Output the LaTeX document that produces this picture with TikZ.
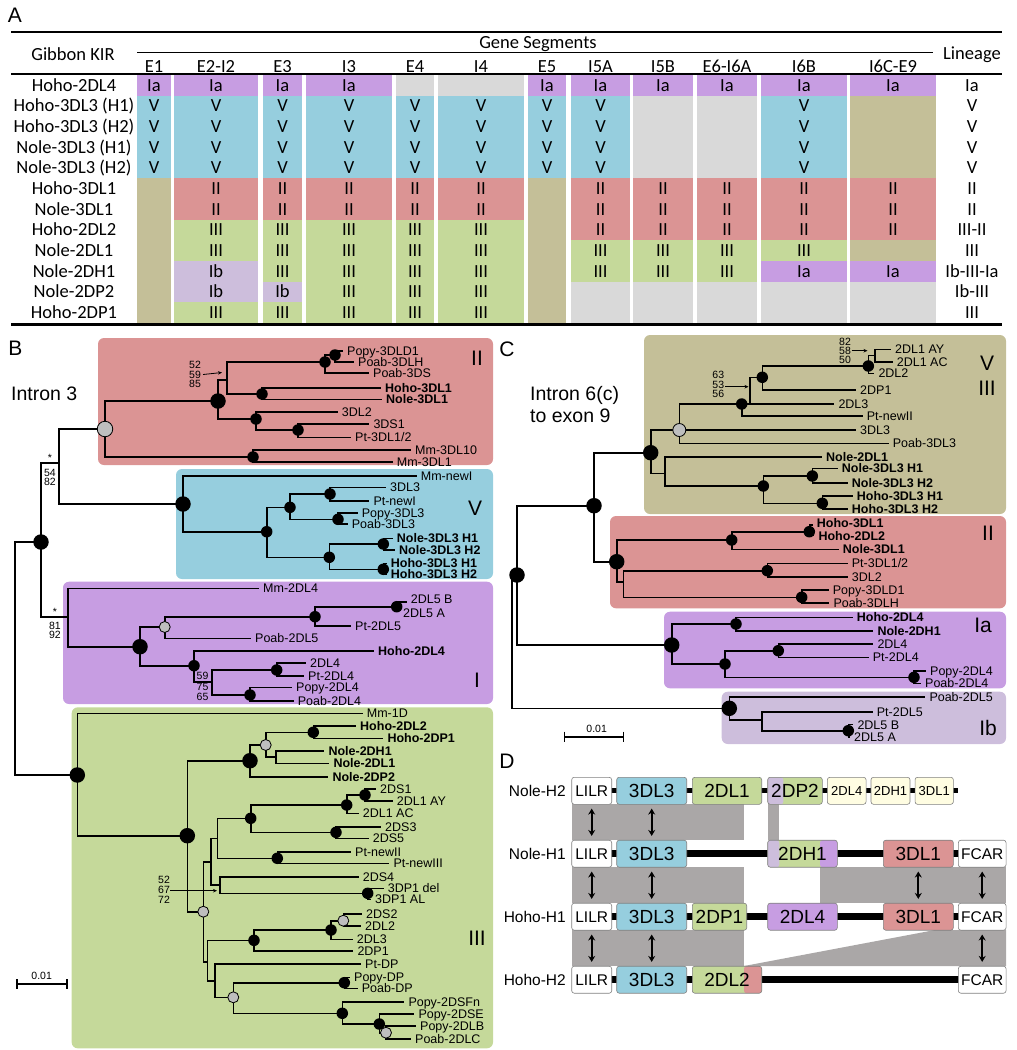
\documentclass[tikz,border=0pt]{standalone}
\usepackage{fontspec}
\setmainfont{Liberation Sans}
\newfontfamily\cf{Carlito}
\usetikzlibrary{arrows.meta}
\definecolor{cpu}{RGB}{199,157,226}
\definecolor{cbl}{RGB}{150,206,222}
\definecolor{cgy}{RGB}{217,217,217}
\definecolor{ctn}{RGB}{196,191,152}
\definecolor{crd}{RGB}{219,148,148}
\definecolor{cgr}{RGB}{197,217,154}
\definecolor{clv}{RGB}{205,190,220}
\definecolor{cyl}{RGB}{255,253,226}
\definecolor{csh}{RGB}{170,167,167}
\definecolor{cgc}{RGB}{190,190,190}
\newcommand\fs[1]{\fontsize{#1}{#1}\selectfont}
\newcommand\vt[3]{\draw[tl] (#1,#2) -- (#1,#3);}
\newcommand\br[3]{\draw[tl] (#1,#3) -- (#2,#3);}
\newcommand\lf[5][lab]{\draw[tl] (#2,#4) -- ({#3-5},#4); \node[#1] at (#3,#4) {#5};}
\newcommand\blk[5]{\fill[#5] (#1,{75+20.667*#3}) rectangle (#2,{75.5+20.667*(#4+1)});}
\newcommand\tx[4]{\node[tt] at ({(#1+#2)/2},{75+20.667*(#3+0.5)}) {#4};}
\begin{document}
\begin{tikzpicture}[x=1pt,y=-1pt,
  tl/.style={line width=1.6pt,line cap=rect},
  lab/.style={anchor=west,inner sep=0pt,font=\fs{12.5},text height=9pt,text depth=0pt},
  blab/.style={lab,font=\fs{12.5}\bfseries},
  num/.style={inner sep=0pt,font=\fs{10.5},text height=7.5pt,text depth=0pt},
  bigc/.style={circle,fill=black,inner sep=0pt,minimum size=15.5pt},
  smc/.style={circle,fill=black,inner sep=0pt,minimum size=11.5pt},
  grc/.style={circle,fill=cgc,draw=black,line width=0.8pt,inner sep=0pt,minimum size=15.5pt},
  sgc/.style={circle,fill=cgc,draw=black,line width=0.8pt,inner sep=0pt,minimum size=11pt},
  roman/.style={inner sep=0pt,font=\fs{21},text height=15pt,text depth=0pt},
  panel/.style={inner sep=0pt,font=\fs{21},text height=15pt,text depth=0pt},
  tt/.style={inner sep=0pt,font=\cf\fs{18.5},text height=11.9pt,text depth=0pt},
  clade/.style={rounded corners=6pt},
  dbox/.style={draw=black!50,line width=0.6pt,rounded corners=2.5pt,minimum height=27pt,inner sep=0pt,font=\fs{19},text height=13.6pt,text depth=0pt},
  sbox/.style={dbox,font=\fs{15.5},text height=11.1pt,fill=white},
  ybox/.style={dbox,font=\fs{13},text height=9.3pt,fill=cyl},
  darr/.style={{Stealth[length=6pt,width=7pt]}-{Stealth[length=6pt,width=7pt]},line width=2pt,shorten <=4pt,shorten >=4pt},
  narr/.style={-{Stealth[length=4pt,width=3.5pt]},line width=0.8pt},
  bb/.style={line width=5pt},
  bbt/.style={line width=7.5pt}]
\useasboundingbox (0,0) rectangle (1017,1050);

% ================= Panel A =================
\node[panel] (pA) at (15,15) {A};
\blk{137}{171}{0}{0}{cpu}\blk{137}{171}{1}{4}{cbl}\blk{137}{171}{5}{11}{ctn}
\foreach \r/\t in {0/Ia,1/V,2/V,3/V,4/V}{\tx{137}{171}{\r}{\t}}
\blk{174}{258}{0}{0}{cpu}\blk{174}{258}{1}{4}{cbl}\blk{174}{258}{5}{6}{crd}\blk{174}{258}{7}{8}{cgr}\blk{174}{258}{9}{10}{clv}\blk{174}{258}{11}{11}{cgr}
\foreach \r/\t in {0/Ia,1/V,2/V,3/V,4/V,5/II,6/II,7/III,8/III,9/Ib,10/Ib,11/III}{\tx{174}{258}{\r}{\t}}
\blk{263}{302}{0}{0}{cpu}\blk{263}{302}{1}{4}{cbl}\blk{263}{302}{5}{6}{crd}\blk{263}{302}{7}{9}{cgr}\blk{263}{302}{10}{10}{clv}\blk{263}{302}{11}{11}{cgr}
\foreach \r/\t in {0/Ia,1/V,2/V,3/V,4/V,5/II,6/II,7/III,8/III,9/III,10/Ib,11/III}{\tx{263}{302}{\r}{\t}}
\blk{306}{392}{0}{0}{cpu}\blk{306}{392}{1}{4}{cbl}\blk{306}{392}{5}{6}{crd}\blk{306}{392}{7}{11}{cgr}
\foreach \r/\t in {0/Ia,1/V,2/V,3/V,4/V,5/II,6/II,7/III,8/III,9/III,10/III,11/III}{\tx{306}{392}{\r}{\t}}
\blk{396}{434}{0}{0}{cgy}\blk{396}{434}{1}{4}{cbl}\blk{396}{434}{5}{6}{crd}\blk{396}{434}{7}{11}{cgr}
\foreach \r/\t in {1/V,2/V,3/V,4/V,5/II,6/II,7/III,8/III,9/III,10/III,11/III}{\tx{396}{434}{\r}{\t}}
\blk{438}{524}{0}{0}{cgy}\blk{438}{524}{1}{4}{cbl}\blk{438}{524}{5}{6}{crd}\blk{438}{524}{7}{11}{cgr}
\foreach \r/\t in {1/V,2/V,3/V,4/V,5/II,6/II,7/III,8/III,9/III,10/III,11/III}{\tx{438}{524}{\r}{\t}}
\blk{528}{566}{0}{0}{cpu}\blk{528}{566}{1}{4}{cbl}\blk{528}{566}{5}{11}{ctn}
\foreach \r/\t in {0/Ia,1/V,2/V,3/V,4/V}{\tx{528}{566}{\r}{\t}}
\blk{571}{630}{0}{0}{cpu}\blk{571}{630}{1}{4}{cbl}\blk{571}{630}{5}{7}{crd}\blk{571}{630}{8}{9}{cgr}\blk{571}{630}{10}{11}{cgy}
\foreach \r/\t in {0/Ia,1/V,2/V,3/V,4/V,5/II,6/II,7/II,8/III,9/III}{\tx{571}{630}{\r}{\t}}
\blk{633}{693}{0}{0}{cpu}\blk{633}{693}{1}{4}{cgy}\blk{633}{693}{5}{7}{crd}\blk{633}{693}{8}{9}{cgr}\blk{633}{693}{10}{11}{cgy}
\foreach \r/\t in {0/Ia,5/II,6/II,7/II,8/III,9/III}{\tx{633}{693}{\r}{\t}}
\blk{697}{757}{0}{0}{cpu}\blk{697}{757}{1}{4}{cgy}\blk{697}{757}{5}{7}{crd}\blk{697}{757}{8}{9}{cgr}\blk{697}{757}{10}{11}{cgy}
\foreach \r/\t in {0/Ia,5/II,6/II,7/II,8/III,9/III}{\tx{697}{757}{\r}{\t}}
\blk{761}{847}{0}{0}{cpu}\blk{761}{847}{1}{4}{cbl}\blk{761}{847}{5}{7}{crd}\blk{761}{847}{8}{8}{cgr}\blk{761}{847}{9}{9}{cpu}\blk{761}{847}{10}{11}{cgy}
\foreach \r/\t in {0/Ia,1/V,2/V,3/V,4/V,5/II,6/II,7/II,8/III,9/Ia}{\tx{761}{847}{\r}{\t}}
\blk{850}{936}{0}{0}{cpu}\blk{850}{936}{1}{4}{ctn}\blk{850}{936}{5}{7}{crd}\blk{850}{936}{8}{8}{ctn}\blk{850}{936}{9}{9}{cpu}\blk{850}{936}{10}{11}{cgy}
\foreach \r/\t in {0/Ia,5/II,6/II,7/II,9/Ia}{\tx{850}{936}{\r}{\t}}
\foreach \r/\t in {0/Hoho-2DL4,1/Hoho-3DL3 (H1),2/Hoho-3DL3 (H2),3/Nole-3DL3 (H1),4/Nole-3DL3 (H2),5/Hoho-3DL1,6/Nole-3DL1,7/Hoho-2DL2,8/Nole-2DL1,9/Nole-2DH1,10/Nole-2DP2,11/Hoho-2DP1}{\tx{30}{118}{\r}{\t}}
\foreach \r/\t in {0/Ia,1/V,2/V,3/V,4/V,5/II,6/II,7/III-II,8/III,9/Ib-III-Ia,10/Ib-III,11/III}{\tx{952}{992}{\r}{\t}}
\node[tt] (hgk) at (73,55) {Gibbon KIR};
\node[tt] (hgs) at (538,43) {Gene Segments};
\node[tt] (hli) at (972,54) {Lineage};
\foreach \x/\t in {154/E1,216/E2-I2,282.5/E3,349/I3,415/E4,481/I4,547/E5,600.5/I5A,663/I5B,727/E6-I6A,804/I6B,893/I6C-E9}{\node[tt] at (\x,66.5) {\t};}
\draw[line width=2.5pt] (11,32) -- (1002,32);
\draw[line width=1pt] (137,52) -- (933,52);
\draw[line width=1.2pt] (11,74) -- (1002,74);
\draw[line width=2.5pt] (11,324.5) -- (1002,324.5);

% ================= Panel B =================
\fill[crd,clade] (98,338) rectangle (493,465);
\fill[cbl,clade] (176,469) rectangle (493,579);
\fill[cpu,clade] (63,581.7) rectangle (493,704);
\fill[cgr,clade] (71.7,707.3) rectangle (493,1048.3);
\node[panel] (pB) at (15.5,347.5) {B};
\node[anchor=west,inner sep=0pt,font=\fs{19.5},text height=14pt,text depth=0pt] (i3) at (11,393) {Intron 3};
\node[roman] at (477,358) {II};
\node[roman] at (475,508) {V};
\node[roman] at (477,680) {I};
\node[roman] at (477,938.3) {III};
\vt{15}{542}{775}
\br{15}{41}{542}
\vt{41}{463}{617}
\br{41}{59}{463}
\vt{59}{429}{504}
% red clade II
\br{59}{105}{429}
\vt{105}{401}{457}
\br{105}{218}{401}
\vt{218}{380}{419}
\br{218}{227}{380}
\vt{227}{362}{394}
\br{227}{325}{362}
\vt{325}{355}{373}
\br{325}{335}{355}
\vt{335}{350.7}{362}
\lf{335}{347}{350.7}{Popy-3DLD1}
\lf{335}{358}{362}{Poab-3DLH}
\lf{325}{373}{373}{Poab-3DS}
\br{227}{262}{394}
\vt{262}{387.7}{399.3}
\lf[blab]{262}{385}{387.7}{Hoho-3DL1}
\lf[blab]{262}{386}{399.3}{Nole-3DL1}
\br{218}{256}{419}
\vt{256}{411.7}{430}
\lf{256}{341.7}{411.7}{3DL2}
\br{256}{298}{430}
\vt{298}{424}{437.3}
\lf{298}{373.3}{424}{3DS1}
\lf{298}{355}{437.3}{Pt-3DL1/2}
\br{105}{253}{457}
\vt{253}{450}{461.7}
\lf{253}{415}{450}{Mm-3DL10}
\lf{253}{396.7}{461.7}{Mm-3DL1}
% blue clade V
\br{59}{183}{504}
\vt{183}{475.7}{531.7}
\lf{183}{420.7}{475.7}{Mm-newI}
\br{183}{266.7}{531.7}
\vt{266.7}{507.3}{557.3}
\br{266.7}{290}{507.3}
\vt{290}{494}{519.3}
\br{290}{330}{494}
\vt{330}{487.3}{500.7}
\lf{330}{390}{487.3}{3DL3}
\lf{330}{373.3}{500.7}{Pt-newI}
\br{290}{338}{519.3}
\vt{338}{512.7}{524}
\lf{338}{361.7}{512.7}{Popy-3DL3}
\lf{338}{351.7}{524}{Poab-3DL3}
\br{266.7}{329.3}{557.3}
\vt{329.3}{544}{569.3}
\br{329.3}{383.3}{544}
\vt{383.3}{538.3}{550}
\lf[blab]{383.3}{396.7}{538.3}{Nole-3DL3 H1}
\lf[blab]{383.3}{399}{550}{Nole-3DL3 H2}
\br{329.3}{383.3}{569.3}
\vt{383.3}{563.3}{574.3}
\lf[blab]{383.3}{390.7}{563.3}{Hoho-3DL3 H1}
\lf[blab]{383.3}{390.7}{574.3}{Hoho-3DL3 H2}
% purple clade I
\br{41}{68}{617}
\vt{68}{588.3}{646.7}
\lf{68}{263}{588.3}{Mm-2DL4}
\br{68}{140}{646.7}
\vt{140}{627}{665.7}
\br{140}{164.7}{627}
\vt{164.7}{616.7}{638.3}
\br{164.7}{315}{616.7}
\vt{315}{606.7}{625.7}
\br{315}{396.7}{606.7}
\vt{396.7}{601.7}{610}
\draw[tl] (396.7,601.7) -- (405.7,601.7);
\node[lab] (l2dl5b) at (410.7,599.3) {2DL5 B};
\draw[tl] (396.7,610) -- (399,610);
\node[lab] (l2dl5a) at (403,612.7) {2DL5 A};
\lf{315}{355}{625.7}{Pt-2DL5}
\lf{164.7}{255}{638.3}{Poab-2DL5}
\br{140}{194}{665.7}
\vt{194}{651}{682}
\lf[blab]{194}{378}{651}{Hoho-2DL4}
\br{194}{211.7}{682}
\vt{211.7}{670}{695}
\br{211.7}{276.7}{670}
\vt{276.7}{662.7}{676}
\lf{276.7}{310}{662.7}{2DL4}
\lf{276.7}{308}{676}{Pt-2DL4}
\br{211.7}{250}{695}
\vt{250}{687.3}{700.7}
\lf{250}{296}{687.3}{Popy-2DL4}
\lf{250}{297.7}{700.7}{Poab-2DL4}
% green clade III
\br{15}{77.3}{775}
\vt{77.3}{713.3}{835.7}
\lf{77.3}{366.7}{713.3}{Mm-1D}
\br{77.3}{187.3}{835.7}
\vt{187.3}{760.7}{911.7}
\br{187.3}{250}{760.7}
\vt{250}{745}{776.7}
\br{250}{265.7}{745}
\vt{265.7}{732.3}{757}
\br{265.7}{313.3}{732.3}
\vt{313.3}{726}{738.3}
\lf[blab]{313.3}{360}{726}{Hoho-2DL2}
\lf[blab]{313.3}{387.3}{738.3}{Hoho-2DP1}
\br{265.7}{275.7}{757}
\vt{275.7}{750.7}{763.3}
\lf[blab]{275.7}{328.3}{750.7}{Nole-2DH1}
\lf[blab]{275.7}{333.3}{763.3}{Nole-2DL1}
\lf[blab]{250}{332.3}{776.7}{Nole-2DP2}
\br{187.3}{203.3}{911.7}
\vt{203.3}{861.7}{961.7}
\br{203.3}{210.7}{861.7}
\vt{210.7}{838.3}{885}
\br{210.7}{217.3}{838.3}
\vt{217.3}{818.3}{858.3}
\br{217.3}{250.7}{818.3}
\vt{250.7}{805}{832.3}
\br{250.7}{346.7}{805}
\vt{346.7}{795}{813.3}
\br{346.7}{365}{795}
\vt{365}{789}{800.7}
\lf{365}{380}{789}{2DS1}
\lf{365}{396.7}{800.7}{2DL1 AY}
\lf{346.7}{362.7}{813.3}{2DL1 AC}
\br{250.7}{336}{832.3}
\vt{336}{826.7}{838.3}
\lf{336}{385}{826.7}{2DS3}
\lf{336}{372.7}{838.3}{2DS5}
\br{217.3}{277.3}{858.3}
\vt{277.3}{851.7}{863.3}
\lf{277.3}{355}{851.7}{Pt-newII}
\lf{277.3}{393.3}{863.3}{Pt-newIII}
\br{210.7}{220}{885}
\vt{220}{876.7}{893.3}
\lf{220}{362.7}{876.7}{2DS4}
\br{220}{367.7}{893.3}
\vt{367.7}{888.3}{899.3}
\lf{367.7}{387.7}{888.3}{3DP1 del}
\lf{367.7}{375}{899.3}{3DP1 AL}
\br{203.3}{207.3}{961.7}
\vt{207.3}{940.3}{980.7}
\br{207.3}{254}{940.3}
\vt{254}{930}{950.7}
\br{254}{331}{930}
\vt{331}{920.7}{939.3}
\br{331}{343.3}{920.7}
\vt{343.3}{914}{926}
\lf{343.3}{366}{914}{2DS2}
\lf{343.3}{365}{926}{2DL2}
\lf{331}{356.7}{939.3}{2DL3}
\lf{254}{357.3}{950.7}{2DP1}
\br{207.3}{215}{980.7}
\vt{215}{964}{997.3}
\lf{215}{365}{964}{Pt-DP}
\br{215}{233.3}{997.3}
\vt{233.3}{982.7}{1013.3}
\br{233.3}{344.3}{982.7}
\vt{344.3}{977.3}{988.3}
\lf{344.3}{354}{977.3}{Popy-DP}
\lf{344.3}{361.7}{988.3}{Poab-DP}
\br{233.3}{342.3}{1013.3}
\vt{342.3}{1001.7}{1024}
\lf{342.3}{408.3}{1001.7}{Popy-2DSFn}
\br{342.3}{379.3}{1024}
\vt{379.3}{1014}{1032.7}
\lf{379.3}{418.3}{1014}{Popy-2DSE}
\br{379.3}{386}{1032.7}
\vt{386}{1025.7}{1039}
\lf{386}{420}{1025.7}{Popy-2DLB}
\lf{386}{415}{1039}{Poab-2DLC}
% circles B
\node[bigc] (nB1) at (41,542) {};
\node[grc] (nR1) at (105,429) {};
\node[bigc] (nR2) at (218,401) {};
\foreach \x/\y in {325/362,335/355,262/394,256/419,298/430,253/457}{\node[smc] at (\x,\y) {};}
\node[bigc] (nV1) at (183,504) {};
\foreach \x/\y in {266.7/531.7,290/507.3,330/494,338/519.3,329.3/557.3,383.3/544,383.3/569.3}{\node[smc] at (\x,\y) {};}
\node[bigc] (nP1) at (140,646.7) {};
\node[sgc] (nP2) at (164.7,627) {};
\foreach \x/\y in {315/616.7,396.7/606.7,194/665.7,276.7/670,250/695}{\node[smc] at (\x,\y) {};}
\node[bigc] (nG0) at (77.3,775) {};
\node[bigc] (nG1) at (187.3,835.7) {};
\node[bigc] (nG2) at (250,760.7) {};
\node[sgc] (nG3) at (265.7,745) {};
\node[sgc] (nG6) at (203.3,911.7) {};
\node[sgc] (nG21) at (343.3,920.7) {};
\node[sgc] (nG18) at (233.3,997.3) {};
\node[sgc] (nG25) at (386,1032.7) {};
\foreach \x/\y in {313.3/732.3,250.7/818.3,346.7/805,365/795,336/832.3,277.3/858.3,367.7/893.3,254/940.3,331/930,344.3/982.7,342.3/1013.3,379.3/1024}{\node[smc] at (\x,\y) {};}
% support values B
\node[num] (s1) at (195,365) {52};
\node[num] (s2) at (195,374.5) {59};
\node[num] (s3) at (195,384) {85};
\coordinate (s2t) at (222,372.5);
\draw[narr] (s2.east) ++(2,0) -- (s2t);
\node[num] (s4) at (50,458) {*};
\node[num] (s5) at (50,472.7) {54};
\node[num] (s6) at (50,481.7) {82};
\node[num] (s7) at (55,611.7) {*};
\node[num] (s8) at (55,625.7) {81};
\node[num] (s9) at (55,635) {92};
\node[num] (s10) at (202.5,676) {59};
\node[num] (s11) at (202.5,686.7) {75};
\node[num] (s12) at (202.5,696.7) {65};
\node[num] (s13) at (164,879.3) {52};
\node[num] (s14) at (164,889.3) {67};
\node[num] (s15) at (164,899.3) {72};
\coordinate (s14t) at (217,890.7);
\draw[narr] (170,890.7) -- (s14t);
\draw[line width=1.6pt] (16.7,984) -- (66.7,984);
\draw[line width=1.6pt] (16.7,979) -- (16.7,989);
\draw[line width=1.6pt] (66.7,979) -- (66.7,989);
\node[num] (sbB) at (41.7,976) {0.01};

% ================= Panel C =================
\fill[ctn,clade] (644,335) rectangle (1006,514);
\fill[crd,clade] (610,516) rectangle (1006,608.3);
\fill[cpu,clade] (664,611.7) rectangle (1006,688.3);
\fill[clv,clade] (721.7,691.7) rectangle (1006,744);
\node[panel] (pC) at (507,349) {C};
\node[anchor=west,inner sep=0pt,font=\fs{19.5},text height=14pt,text depth=0pt] (i6a) at (530,393) {Intron 6(c)};
\node[anchor=west,inner sep=0pt,font=\fs{19.5},text height=14pt,text depth=0pt] (i6b) at (530,415.5) {to exon 9};
\node[roman] at (987,363.3) {V};
\node[roman] at (987,388.3) {III};
\node[roman] at (988,533.3) {II};
\node[roman] at (983,625) {Ia};
\node[roman] at (988,728.3) {Ib};
\vt{512}{575}{708.3}
\br{512}{517}{575}
\vt{517}{505.7}{645}
\br{517}{594}{505.7}
\vt{594}{452.7}{561.7}
\br{594}{650.7}{452.7}
\vt{650.7}{430}{473.3}
\br{650.7}{679.3}{430}
\vt{679.3}{404}{443.3}
\br{679.3}{741.7}{404}
\lf{679.3}{860}{430}{3DL3}
\lf{679.3}{892.7}{443.3}{Poab-3DL3}
\vt{741.7}{404}{416}
\lf{741.7}{866.7}{416}{Pt-newII}
\br{741.7}{750}{404}
\vt{750}{377.3}{404}
\lf{750}{838.3}{404}{2DL3}
\br{750}{762.3}{377.3}
\vt{762.3}{366}{390}
\br{762.3}{868.3}{366}
\vt{868.3}{355.5}{373.3}
\br{868.3}{875}{355.5}
\vt{875}{349.3}{361.7}
\lf{875}{895}{349.3}{2DL1 AY}
\lf{875}{896.7}{361.7}{2DL1 AC}
\lf{868.3}{878.3}{373.3}{2DL2}
\lf{762.3}{860}{390}{2DP1}
\br{650.7}{665}{473.3}
\vt{665}{456.7}{486}
\lf[blab]{665}{826}{456.7}{Nole-2DL1}
\br{665}{763.3}{486}
\vt{763.3}{476}{503.3}
\br{763.3}{812.3}{476}
\vt{812.3}{468.3}{482.7}
\lf[blab]{812.3}{841.7}{468.3}{Nole-3DL3 H1}
\lf[blab]{812.3}{851.7}{482.7}{Nole-3DL3 H2}
\br{763.3}{822.3}{503.3}
\vt{822.3}{495.7}{509}
\lf[blab]{822.3}{856.7}{495.7}{Hoho-3DL3 H1}
\lf[blab]{822.3}{851.7}{509}{Hoho-3DL3 H2}
% red C
\br{594}{616.7}{561.7}
\vt{616.7}{540}{581.7}
\br{616.7}{731.7}{540}
\vt{731.7}{531.7}{549.3}
\br{731.7}{809.3}{531.7}
\vt{809.3}{525}{535}
\draw[tl] (809.3,525) -- (812,525);
\node[blab] (lh3dl1) at (816.7,523.3) {Hoho-3DL1};
\draw[tl] (809.3,535) -- (813.3,535);
\node[blab] (lh2dl2) at (818.3,536) {Hoho-2DL2};
\lf[blab]{731.7}{842.7}{549.3}{Nole-3DL1}
\br{616.7}{623.3}{581.7}
\vt{623.3}{570.7}{597.3}
\br{623.3}{767.3}{570.7}
\vt{767.3}{563.3}{576.7}
\lf{767.3}{851.7}{563.3}{Pt-3DL1/2}
\lf{767.3}{851.7}{576.7}{3DL2}
\br{623.3}{801.7}{597.3}
\vt{801.7}{590}{602.7}
\lf{801.7}{832.7}{590}{Popy-3DLD1}
\lf{801.7}{833.3}{602.7}{Poab-3DLH}
% Ia C
\br{517}{671.7}{645}
\vt{671.7}{624}{664}
\br{671.7}{736}{624}
\vt{736}{617.3}{630.7}
\lf[blab]{736}{856.7}{617.3}{Hoho-2DL4}
\lf[blab]{736}{877.3}{630.7}{Nole-2DH1}
\br{671.7}{725}{664}
\vt{725}{650.7}{677.3}
\br{725}{778.3}{650.7}
\vt{778.3}{644}{657.3}
\lf{778.3}{877.3}{644}{2DL4}
\lf{778.3}{872.7}{657.3}{Pt-2DL4}
\br{725}{914}{677.3}
\vt{914}{670.7}{683.3}
\lf{914}{930}{670.7}{Popy-2DL4}
\lf{914}{925}{683.3}{Poab-2DL4}
% Ib C
\br{512}{729.3}{708.3}
\vt{729.3}{696.7}{720}
\lf{729.3}{929.3}{696.7}{Poab-2DL5}
\br{729.3}{761.7}{720}
\vt{761.7}{711.7}{730.7}
\lf{761.7}{876.7}{711.7}{Pt-2DL5}
\br{761.7}{848.3}{730.7}
\vt{848.3}{725}{736}
\lf{848.3}{857.3}{724.5}{2DL5 B}
\lf{848.3}{854}{737}{2DL5 A}
% circles C
\node[bigc] (cR) at (517,575) {};
\node[bigc] (c0) at (594,505.7) {};
\node[bigc] (c1) at (650.7,452.7) {};
\node[grc,minimum size=13pt] (c2) at (679.3,430) {};
\node[bigc] (cII) at (616.7,561.7) {};
\node[bigc] (cIa) at (671.7,645) {};
\node[bigc] (cIb) at (729.3,708.3) {};
\foreach \x/\y in {741.7/404,762.3/377.3,868.3/366,763.3/486,812.3/476,822.3/503.3,731.7/540,809.3/531.7,767.3/570.7,801.7/597.3,736/624,725/664,778.3/650.7,914/677.3,848.3/730.7}{\node[smc] at (\x,\y) {};}
\node[num] (t1) at (718.3,375) {63};
\node[num] (t2) at (718.3,384.3) {53};
\node[num] (t3) at (718.3,393.5) {56};
\coordinate (t2t) at (748.5,386.7);
\draw[narr] (725,386.7) -- (t2t);
\node[num] (t4) at (845,341.7) {82};
\node[num] (t5) at (845,350.7) {58};
\node[num] (t6) at (845,360) {50};
\coordinate (t5t) at (867.5,350.7);
\draw[narr] (851.5,350.7) -- (t5t);
\draw[line width=1.6pt] (564.3,736.7) -- (623.3,736.7);
\draw[line width=1.6pt] (564.3,731.7) -- (564.3,741.7);
\draw[line width=1.6pt] (623.3,731.7) -- (623.3,741.7);
\node[num] (sbC) at (596.7,729) {0.01};

% ================= Panel D =================
\node[panel] (pD) at (507,761) {D};
\fill[csh] (571.7,804.3) rectangle (744,840);
\fill[csh] (767.7,804.3) rectangle (779.3,840);
\fill[csh] (571.7,867.3) rectangle (744,903.3);
\fill[csh] (820,867.3) rectangle (1006,903.3);
\fill[csh] (571.7,930) rectangle (744,966);
\fill[csh] (744,966) -- (935,930) -- (1006,930) -- (1006,966) -- cycle;
\node[anchor=east,inner sep=0pt,font=\fs{15.5},text height=11.1pt,text depth=0pt] (lnh2) at (566,790.8) {Nole-H2};
\node[anchor=east,inner sep=0pt,font=\fs{15.5},text height=11.1pt,text depth=0pt] (lnh1) at (566,853.7) {Nole-H1};
\node[anchor=east,inner sep=0pt,font=\fs{15.5},text height=11.1pt,text depth=0pt] (lhh1) at (566,916.7) {Hoho-H1};
\node[anchor=east,inner sep=0pt,font=\fs{15.5},text height=11.1pt,text depth=0pt] (lhh2) at (566,979.7) {Hoho-H2};
\coordinate (h2end) at (958.3,790.8);
\draw[bb] (591.7,790.8) -- (h2end);
\draw[bbt] (591.7,853.7) -- (982,853.7);
\draw[bbt] (591.7,916.7) -- (982,916.7);
\draw[bbt] (591.7,979.7) -- (982,979.7);
\node[sbox,minimum width=40pt] (a1) at (591.7,790.8) {LILR};
\node[dbox,fill=cbl,minimum width=70pt] (a2) at (651.7,790.8) {3DL3};
\node[dbox,fill=cgr,minimum width=69.4pt] (a3) at (727,790.8) {2DL1};
\node[dbox,fill=cgr,minimum width=54.6pt,path picture={\fill[clv] (path picture bounding box.south west) rectangle ([xshift=15.6pt]path picture bounding box.north west);}] (a4) at (795,790.8) {2DP2};
\node[ybox,minimum width=38.7pt] (a5) at (846.7,790.8) {2DL4};
\node[ybox,minimum width=39pt] (a6) at (890.5,790.8) {2DH1};
\node[ybox,minimum width=38.3pt] (a7) at (934.2,790.8) {3DL1};
\node[sbox,minimum width=40pt] (b1) at (591.7,853.7) {LILR};
\node[dbox,fill=cbl,minimum width=70pt] (b2) at (651.7,853.7) {3DL3};
\node[dbox,fill=cgr,minimum width=69.6pt,path picture={\fill[clv] (path picture bounding box.south west) rectangle ([xshift=11.6pt]path picture bounding box.north west);\fill[cpu] ([xshift=-17.3pt]path picture bounding box.south east) rectangle (path picture bounding box.north east);}] (b3) at (802.5,853.7) {2DH1};
\node[dbox,fill=crd,minimum width=70pt] (b4) at (918.3,853.7) {3DL1};
\node[sbox,minimum width=47.7pt] (b5) at (982.2,853.7) {FCAR};
\node[sbox,minimum width=40pt] (c1b) at (591.7,916.7) {LILR};
\node[dbox,fill=cbl,minimum width=70pt] (c2b) at (651.7,916.7) {3DL3};
\node[dbox,fill=cgr,minimum width=54.4pt] (c3b) at (719.5,916.7) {2DP1};
\node[dbox,fill=cpu,minimum width=69.6pt] (c4b) at (802.5,916.7) {2DL4};
\node[dbox,fill=crd,minimum width=70pt] (c5b) at (918.3,916.7) {3DL1};
\node[sbox,minimum width=47.7pt] (c6b) at (982.2,916.7) {FCAR};
\node[sbox,minimum width=40pt] (d1) at (591.7,979.7) {LILR};
\node[dbox,fill=cbl,minimum width=70pt] (d2) at (651.7,979.7) {3DL3};
\node[dbox,fill=cgr,minimum width=69.4pt,path picture={\fill[crd] ([xshift=-17.7pt]path picture bounding box.south east) rectangle (path picture bounding box.north east);}] (d3) at (727,979.7) {2DL2};
\node[sbox,minimum width=47.7pt] (d4) at (982.2,979.7) {FCAR};
\draw[darr] (a1.south) -- (b1.north);
\draw[darr] (a2.south) -- (b2.north);
\draw[darr] (b1.south) -- (c1b.north);
\draw[darr] (b2.south) -- (c2b.north);
\draw[darr] (b4.south) -- (c5b.north);
\draw[darr] (b5.south) -- (c6b.north);
\draw[darr] (c1b.south) -- (d1.north);
\draw[darr] (c2b.south) -- (d2.north);
\draw[darr] (c6b.south) -- (d4.north);
\end{tikzpicture}
\end{document}
